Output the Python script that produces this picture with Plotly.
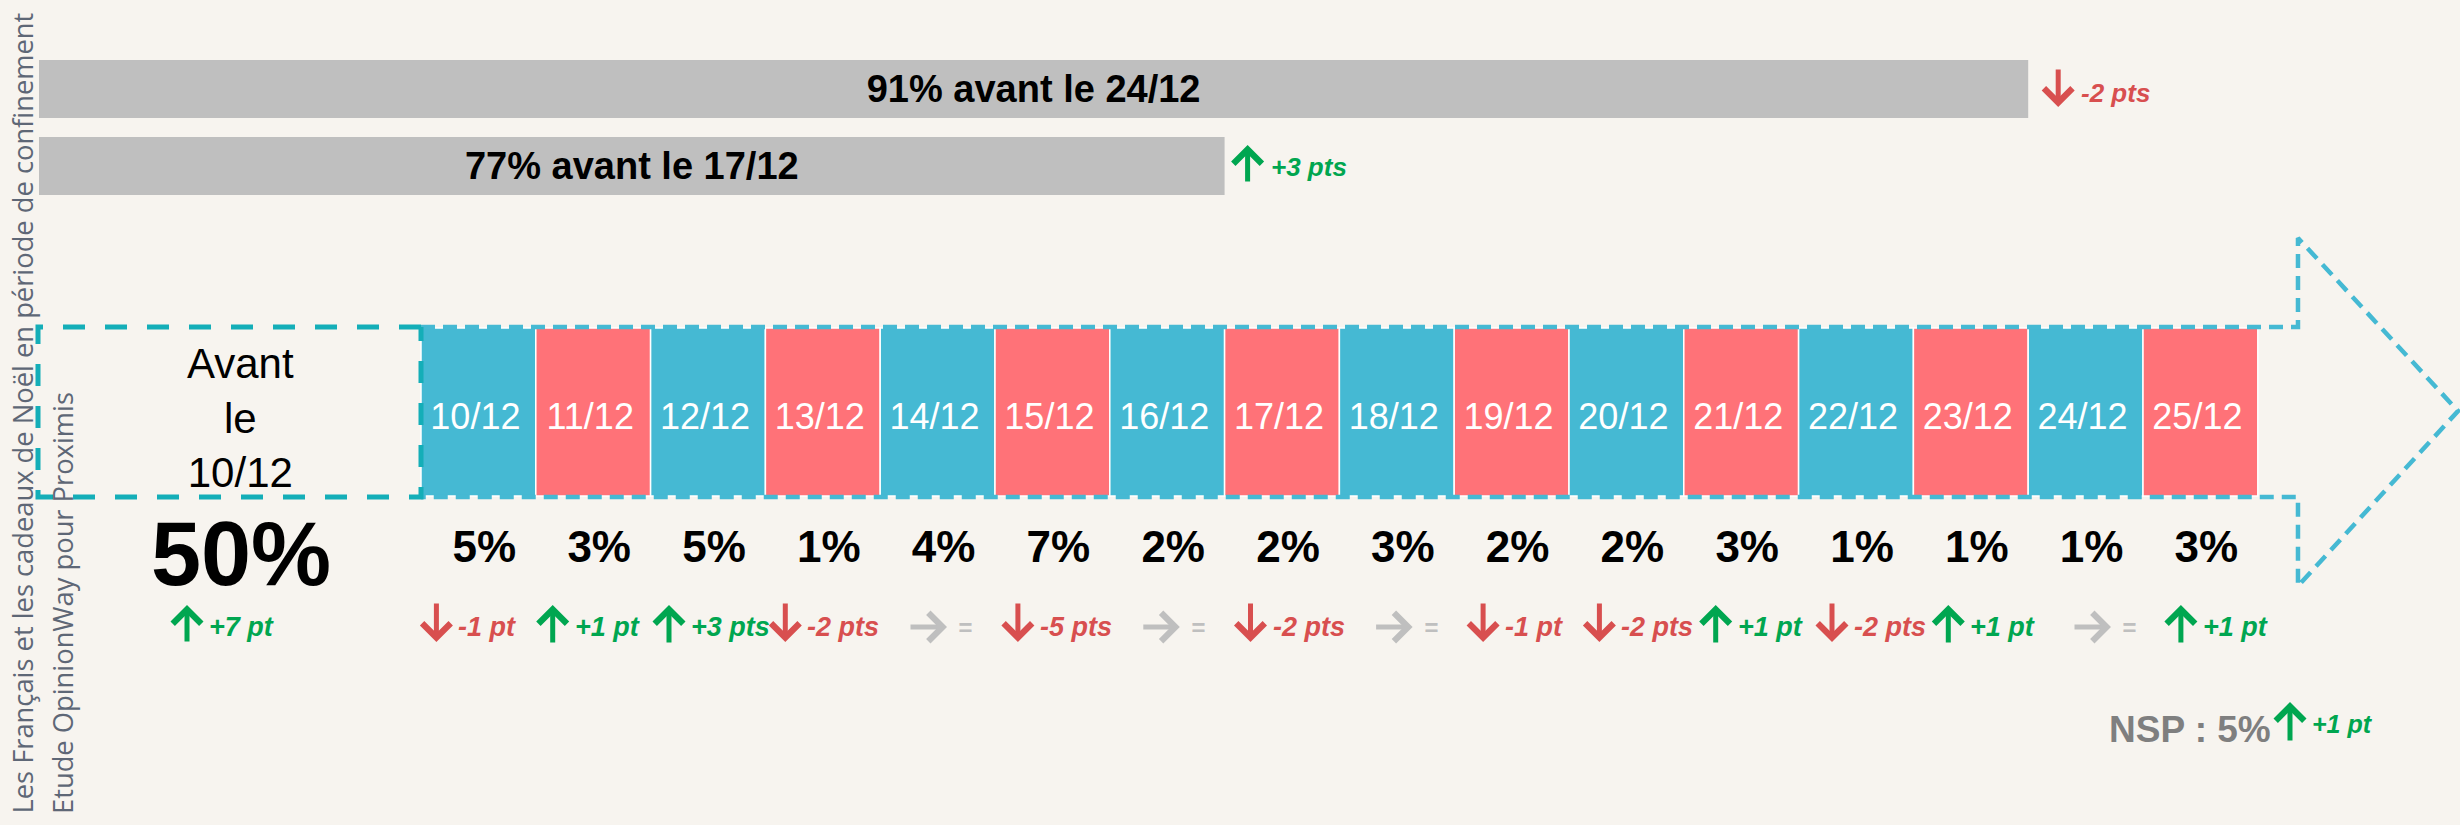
import plotly.graph_objects as go

# ---------------- data ----------------
dates = ["10/12", "11/12", "12/12", "13/12", "14/12", "15/12", "16/12", "17/12",
         "18/12", "19/12", "20/12", "21/12", "22/12", "23/12", "24/12", "25/12"]
daily_pct = [5, 3, 5, 1, 4, 7, 2, 2, 3, 2, 2, 3, 1, 1, 1, 3]
daily_change = [-1, 1, 3, -2, 0, -5, 0, -2, 0, -1, -2, 1, -2, 1, 0, 1]

before_label = "Avant<br>le<br>10/12"
before_pct = 50
before_change = 7

cum_dates = ["24/12", "17/12"]
cum_pct = [91, 77]
cum_change = [-2, 3]

nsp_pct = 5
nsp_change = 1

title_lines = ["Les Français et les cadeaux de Noël en période de confinement",
               "Etude OpinionWay pour Proximis"]

# ---------------- style / geometry ----------------
W, H = 2460, 825
PX0, PXW = 421.0, 114.8          # pixel of first day box, pixel width of one day


def u(px):
    return (px - PX0) / PXW


def du(px):
    return px / PXW


BG = "#F7F4EF"
BLUE = "#45B9D3"
RED = "#FF7278"
TEAL = "#14AEB8"
GREEN = "#00A650"
DOWN_RED = "#D84F4F"
GREY = "#BFBFBF"
FONT = "Liberation Sans, Arial, sans-serif"


def change_label(v, unit_one="pt"):
    if v == 0:
        return "="
    return f"{v:+d} {unit_one if abs(v) == 1 else 'pts'}"


fig = go.Figure()
annotations = []


def arrow(x, y_tip, x_tail, y_tail, color, width=5, size=1.1):
    annotations.append(dict(
        x=x, y=y_tip, ax=x_tail, ay=y_tail, xref="x", yref="y", axref="x", ayref="y",
        text="", showarrow=True, arrowhead=4, arrowsize=size, arrowwidth=width,
        arrowcolor=color, standoff=0, startstandoff=0, font=dict(size=1)))


def ctext(x, y, text, color, size, anchor="left", bold=True, italic=True):
    annotations.append(dict(
        x=x, y=y, xref="x", yref="y", text=text, showarrow=False,
        xanchor=anchor, yanchor="middle",
        font=dict(family=FONT, size=size, color=color,
                  weight="bold" if bold else "normal",
                  style="italic" if italic else "normal")))


# ---------------- cumulative grey bars ----------------
bar_left = u(39)
bar_y = [89, 166]
bar_end = [dates.index(d) for d in cum_dates]
fig.add_trace(go.Bar(
    orientation="h", y=bar_y, x=[e - bar_left for e in bar_end], base=[bar_left] * 2,
    width=58, marker=dict(color=GREY, line=dict(width=0)),
    text=[f"{p}% avant le {d}" for p, d in zip(cum_pct, cum_dates)],
    textposition="inside", insidetextanchor="middle", textangle=0,
    textfont=dict(family=FONT, size=38, color="black", weight="bold"),
    hoverinfo="skip"))

for e, yc, ch, off in zip(bar_end, bar_y, cum_change, [30, 23]):
    xa = e + du(off)
    if ch < 0:
        arrow(xa, yc + 18, xa, yc - 21, DOWN_RED)
        ctext(xa + du(21), yc + 4, change_label(ch), DOWN_RED, 26)
    else:
        arrow(xa, yc - 21, xa, yc + 17, GREEN)
        ctext(xa + du(21), yc + 1, change_label(ch), GREEN, 26)

# ---------------- day boxes ----------------
centers = [i + 0.5 for i in range(len(dates))]
fig.add_trace(go.Bar(
    x=centers, y=[168] * len(dates), base=328, width=1,
    marker=dict(color=[BLUE if i % 2 == 0 else RED for i in range(len(dates))],
                line=dict(color="white", width=1.5)),
    hoverinfo="skip"))
fig.add_trace(go.Scatter(
    x=[c - du(3) for c in centers], y=[420] * len(dates), mode="text", text=dates,
    textfont=dict(family=FONT, size=36, color="white"), hoverinfo="skip"))

# dashed big arrow outline
notch = len(dates) + 0.35
tip = u(2458)
fig.add_trace(go.Scatter(
    x=[0, notch, notch, tip, notch, notch, 0],
    y=[327, 327, 238, 411, 586, 497, 497],
    mode="lines", line=dict(color=BLUE, width=4.5, dash="14px,8px"), hoverinfo="skip"))
# dashed "before" box
fig.add_trace(go.Scatter(
    x=[0, u(38), u(38), 0, 0], y=[327, 327, 497, 497, 327],
    mode="lines", line=dict(color=TEAL, width=5, dash="22px,20px"), hoverinfo="skip"))

# ---------------- daily percentages & changes ----------------
fig.add_trace(go.Scatter(
    x=[c + du(6) for c in centers], y=[551] * len(dates), mode="text",
    text=[f"{p}%" for p in daily_pct],
    textfont=dict(family=FONT, size=44, color="black", weight="bold"), hoverinfo="skip"))

for i, (c, v) in enumerate(zip(centers, daily_change)):
    if v != 0:
        xa = c + du(-42 + 1.5 * i)
        if v < 0:
            arrow(xa, 642, xa, 602, DOWN_RED)
            ctext(xa + du(20), 627, change_label(v), DOWN_RED, 27)
        else:
            arrow(xa, 605, xa, 644, GREEN)
            ctext(xa + du(20), 627, change_label(v), GREEN, 27)
    else:
        gx = c + du(-16 + 1.6 * i)
        arrow(gx + du(19), 627, gx - du(19), 627, GREY)
        ctext(gx + du(28), 627, "=", GREY, 24)

# ---------------- before 10/12 ----------------
annotations.append(dict(x=u(240), y=418, xref="x", yref="y", text=before_label,
                        showarrow=False, align="center",
                        font=dict(family=FONT, size=42, color="black")))
annotations.append(dict(x=u(241), y=554, xref="x", yref="y", text=f"{before_pct}%",
                        showarrow=False,
                        font=dict(family=FONT, size=90, color="black", weight="bold")))
arrow(u(187), 605, u(187), 643, GREEN)
ctext(u(207), 627, f"{before_change:+d} pt", GREEN, 27)

# ---------------- NSP ----------------
ctext(u(2190), 729, f"NSP : {nsp_pct}%", "#7F7F7F", 37, anchor="center", italic=False)
arrow(u(2290), 702, u(2290), 742, GREEN)
ctext(u(2310), 724, change_label(nsp_change), GREEN, 25)

# ---------------- vertical titles ----------------
for xp, line in zip([22, 62], title_lines):
    annotations.append(dict(
        x=xp / W, y=1 - 816 / H, xref="paper", yref="paper", text=line,
        showarrow=False, textangle=-90, xanchor="center", yanchor="bottom",
        font=dict(family="Open Sans, sans-serif", size=27.3, color="#5E6776")))

fig.update_layout(
    width=W, height=H, autosize=False,
    margin=dict(l=0, r=0, t=0, b=0, pad=0),
    paper_bgcolor=BG, plot_bgcolor=BG,
    showlegend=False, barmode="overlay", hovermode=False,
    xaxis=dict(range=[u(0), u(W)], visible=False, fixedrange=True),
    yaxis=dict(range=[H, 0], visible=False, fixedrange=True),
    annotations=annotations,
)

fig.write_html("out.html", config={"displayModeBar": False},
               post_script="document.body.style.margin='0';document.body.style.overflow='hidden';")
